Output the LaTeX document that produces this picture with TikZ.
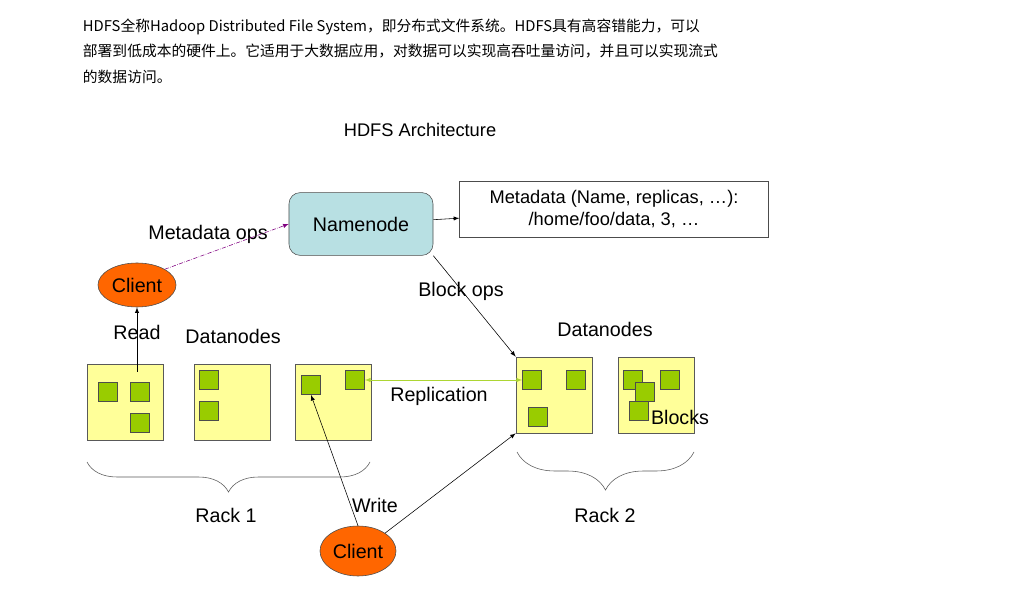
\documentclass[tikz,border=0pt]{standalone}
\usepackage{fontspec}
\setmainfont{Liberation Sans}
\newfontfamily\cjk{Noto Sans CJK SC}
\usetikzlibrary{shapes.geometric,decorations.pathreplacing}
\definecolor{nnblue}{HTML}{B8E0E3}
\definecolor{dnyellow}{HTML}{FFFF99}
\definecolor{blkgreen}{HTML}{99CC00}
\definecolor{clorange}{HTML}{FF6600}
\begin{document}
\begin{tikzpicture}[x=0.025cm,y=-0.025cm]
	\tikzset{every node/.style={font=\fontsize{14}{16}\selectfont}}
	\tikzset{dn/.style={draw=gray!70!black,fill=dnyellow,minimum width=1.9cm,minimum height=1.9cm,inner sep=0pt}}
	\tikzset{blk/.style={draw=black!70,fill=blkgreen,minimum size=0.48cm,inner sep=0pt}}
	\tikzset{client/.style={ellipse,draw=black!70,fill=clorange,inner sep=0pt}}
	\useasboundingbox (0,0) rectangle (1020,609);
	\node[anchor=west,align=left,font=\cjk\fontsize{10.5}{18.2}\selectfont] (intro) at (78,51)
		{HDFS全称Hadoop Distributed File System，即分布式文件系统。HDFS具有高容错能力，可以\\
		 部署到低成本的硬件上。它适用于大数据应用，对数据可以实现高吞吐量访问，并且可以实现流式\\
		 的数据访问。};
	\node (title) at (420,130) {\fontsize{13}{15}\selectfont HDFS Architecture};
	\node[draw=black!70,fill=nnblue,rounded corners=8pt,minimum width=3.6cm,minimum height=1.57cm] (namenode) at (361,224) {Namenode};
	\node[draw=black!70,minimum width=7.72cm,minimum height=1.4cm,align=center,font=\fontsize{13}{15.5}\selectfont] (meta) at (614,209)
		{Metadata (Name, replicas, \dots):\\/home/foo/data, 3, \dots};
	\node[client,minimum width=1.95cm,minimum height=1.1cm] (client1) at (137,285) {Client};
	\node[client,minimum width=1.9cm,minimum height=1.25cm] (client2) at (358,551) {Client};
	% rack 1
	\node[dn] (dn1) at (125,402) {};
	\node[dn] (dn2) at (232,402) {};
	\node[dn] (dn3) at (333,402) {};
	\node[blk] (b11) at (108,392) {};
	\node[blk] (b12) at (140,392) {};
	\node[blk] (b13) at (140,423) {};
	\node[blk] (b21) at (209,380) {};
	\node[blk] (b22) at (209,411) {};
	\node[blk] (b31) at (311,385) {};
	\node[blk] (b32) at (355,380) {};
	% rack 2
	\node[dn] (dn4) at (554,395) {};
	\node[dn] (dn5) at (656,395) {};
	\node[blk] (b41) at (532,380) {};
	\node[blk] (b42) at (576,380) {};
	\node[blk] (b43) at (538,417) {};
	\node[blk] (b51) at (633,380) {};
	\node[blk] (b52) at (670,380) {};
	\node[blk] (b53) at (645,392) {};
	\node[blk] (b54) at (639,411) {};
	\node (blocks) at (680,417) {Blocks};
	\node (dnlabel1) at (233,336) {Datanodes};
	\node (dnlabel2) at (605,329) {Datanodes};
	\node (readlbl) at (137,332) {Read};
	\node (writelbl) at (375,505) {Write};
	\node (metaops) at (208,234) {Metadata ops};
	\node (blockops) at (461,291) {Block ops};
	\node (repl) at (439,396) {Replication};
	\node (rack1) at (226,515) {Rack 1};
	\node (rack2) at (605,515) {Rack 2};
	% connectors
	\draw[-latex] (namenode) -- (meta);
	\draw[-latex,violet,densely dashdotted] (client1.north east) -- (namenode.west);
	\draw[-latex] (namenode.south east) -- (dn4.north west);
	\draw[-latex] (dn1.north)++(12,8) coordinate (rd) (rd) -- (client1.south);
	\draw[latex-latex,blkgreen!80!white] (b32.east) -- (b41.west);
	\draw[-latex] (client2.north) -- (b31.south);
	\draw[-latex] (client2.north east) -- (dn4.south west);
	\coordinate (r1a) at (87,462);
	\coordinate (r1b) at (370,462);
	\coordinate (r2a) at (517,452);
	\coordinate (r2b) at (694,452);
	\draw[gray!70!black,decorate,decoration={brace,mirror,amplitude=0.75cm}] (r1a) -- (r1b);
	\draw[gray!70!black,decorate,decoration={brace,mirror,amplitude=0.95cm}] (r2a) -- (r2b);
\end{tikzpicture}
\end{document}
